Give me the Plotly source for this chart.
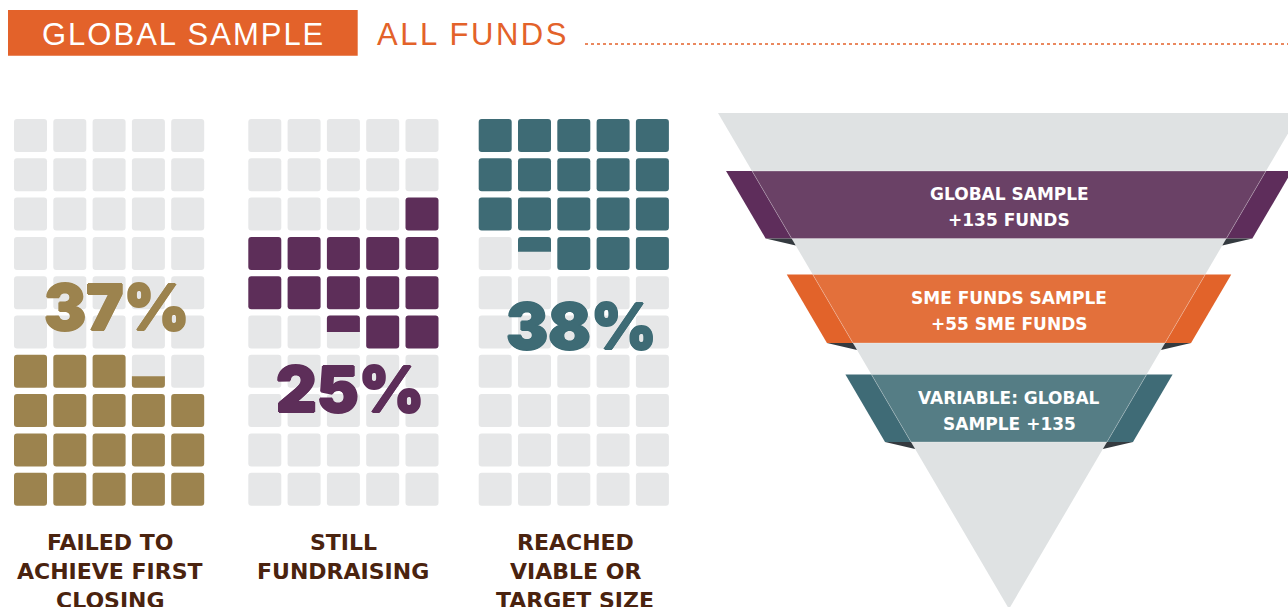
import plotly.graph_objects as go

# ---------------- data ----------------
header_box_text = "GLOBAL SAMPLE"
header_title = "ALL FUNDS"

categories = [
    ["FAILED TO", "ACHIEVE FIRST", "CLOSING"],
    ["STILL", "FUNDRAISING"],
    ["REACHED", "VIABLE OR", "TARGET SIZE"],
]
percents = [37, 25, 38]

# fill of each waffle cell (rows top -> bottom, 5 columns); fractions are partial cells
fill_failed = [
    [0, 0, 0, 0, 0], [0, 0, 0, 0, 0], [0, 0, 0, 0, 0], [0, 0, 0, 0, 0],
    [0, 0, 0, 0, 0], [0, 0, 0, 0, 0], [1, 1, 1, 0.35, 0],
    [1, 1, 1, 1, 1], [1, 1, 1, 1, 1], [1, 1, 1, 1, 1],
]
fill_still = [
    [0, 0, 0, 0, 0], [0, 0, 0, 0, 0], [0, 0, 0, 0, 1], [1, 1, 1, 1, 1],
    [1, 1, 1, 1, 1], [0, 0, 0.5, 1, 1], [0, 0, 0, 0, 0],
    [0, 0, 0, 0, 0], [0, 0, 0, 0, 0], [0, 0, 0, 0, 0],
]
fill_reached = [
    [1, 1, 1, 1, 1], [1, 1, 1, 1, 1], [1, 1, 1, 1, 1], [0, 0.45, 1, 1, 1],
    [0, 0, 0, 0, 0], [0, 0, 0, 0, 0], [0, 0, 0, 0, 0],
    [0, 0, 0, 0, 0], [0, 0, 0, 0, 0], [0, 0, 0, 0, 0],
]
fills = [fill_failed, fill_still, fill_reached]
partial_side = ["bottom", "top", "top"]

band_lines = [
    ["GLOBAL SAMPLE", "+135 FUNDS"],
    ["SME FUNDS SAMPLE", "+55 SME FUNDS"],
    ["VARIABLE: GLOBAL", "SAMPLE +135"],
]

# ---------------- styles / layout constants ----------------
W, H = 1288, 607
orange = "#e3622a"
waffle_colors = ["#9c834e", "#5d2e59", "#3e6b75"]
cell_bg = "#e6e7e8"
label_color = "#4a230f"
band_wing = ["#5e2d5b", "#e2632a", "#3f6b76"]
band_inner = ["#6a4166", "#e3703b", "#557d85"]
funnel_gray = "#dfe2e3"
shadow_col = "#343a3f"

grid_x0 = [14, 248.3, 478.7]
grid_y0 = 119
cell = 33
pitch = 39.3
pct_xy = [(116, 307), (350, 389), (581, 326)]
label_x = [110, 343, 575]
label_y0, label_dy = 542, 29

fun_cx, fun_top, fun_apex, fun_half_top = 1009, 113, 609, 291
wing = 26
band_y = [(171, 238.5), (274.5, 343), (374.5, 442)]
band_text_dy = 13
band_text_shift = 2.5

shapes = []
annotations = []


def rpath(x0, y0, x1, y1, r, round_top=True, round_bottom=True):
    rt = r if round_top else 0
    rb = r if round_bottom else 0
    p = f"M {x0 + rt},{y0} L {x1 - rt},{y0} "
    p += f"Q {x1},{y0} {x1},{y0 + rt} " if rt else ""
    p += f"L {x1},{y1 - rb} "
    p += f"Q {x1},{y1} {x1 - rb},{y1} " if rb else ""
    p += f"L {x0 + rb},{y1} "
    p += f"Q {x0},{y1} {x0},{y1 - rb} " if rb else ""
    p += f"L {x0},{y0 + rt} "
    p += f"Q {x0},{y0} {x0 + rt},{y0} " if rt else ""
    return p + "Z"


def add_path(path, color, line_color=None, lw=0):
    shapes.append(dict(type="path", path=path, xref="x", yref="y",
                       fillcolor=color, line=dict(width=lw, color=line_color or color),
                       layer="below"))


def poly(pts):
    return "M " + " L ".join(f"{x},{y}" for x, y in pts) + " Z"


def spaced(text, px):
    return f'<span style="letter-spacing:{px}px">{text}</span>'


def heavy(col, d=0.9):
    return ", ".join(f"{dx}px {dy}px 0 {col}" for dx, dy in
                     [(d, 0), (-d, 0), (0, d), (0, -d)])


# ---------------- header ----------------
shapes.append(dict(type="rect", xref="x", yref="y", x0=8, x1=357.7, y0=10, y1=55.7,
                   fillcolor=orange, line=dict(width=0), layer="below"))
annotations.append(dict(x=183, y=34.5, xref="x", yref="y", text=spaced(header_box_text, 2),
                        showarrow=False, xanchor="center", yanchor="middle",
                        font=dict(family="Liberation Sans, Arial", size=31, color="white")))
annotations.append(dict(x=375, y=34.5, xref="x", yref="y", text=spaced(header_title, 2.5),
                        showarrow=False, xanchor="left", yanchor="middle",
                        font=dict(family="Liberation Sans, Arial", size=31, color=orange)))
shapes.append(dict(type="line", xref="x", yref="y", x0=585, x1=W, y0=44, y1=44,
                   line=dict(color=orange, width=1.6, dash="dot")))

# ---------------- waffles ----------------
for g, grid in enumerate(fills):
    col = waffle_colors[g]
    for r, row in enumerate(grid):
        for c, v in enumerate(row):
            x0 = grid_x0[g] + c * pitch
            y0 = grid_y0 + r * pitch
            x1, y1 = x0 + cell, y0 + cell
            if v >= 1:
                add_path(rpath(x0, y0, x1, y1, 3), col)
            else:
                add_path(rpath(x0, y0, x1, y1, 3), cell_bg)
                if v > 0:
                    if partial_side[g] == "bottom":
                        add_path(rpath(x0, y1 - v * cell, x1, y1, 3, False, True), col)
                    else:
                        add_path(rpath(x0, y0, x1, y0 + v * cell, 3, True, False), col)
    annotations.append(dict(x=pct_xy[g][0], y=pct_xy[g][1], xref="x", yref="y",
                            text=f"{percents[g]}%", showarrow=False,
                            xanchor="center", yanchor="middle",
                            font=dict(family="Inter", size=63, color=col, weight=900,
                                      shadow=heavy(col))))
    for i, line in enumerate(categories[g]):
        annotations.append(dict(x=label_x[g], y=label_y0 + i * label_dy, xref="x", yref="y",
                                text=line, showarrow=False, xanchor="center", yanchor="middle",
                                font=dict(family="DejaVu Sans", size=22, color=label_color,
                                          weight="bold")))

# ---------------- funnel ----------------
def half(y):
    return fun_half_top * (fun_apex - y) / (fun_apex - fun_top)


add_path(poly([(fun_cx - fun_half_top, fun_top), (fun_cx + fun_half_top, fun_top),
               (fun_cx, fun_apex)]), funnel_gray)

for b, (yt, yb) in enumerate(band_y):
    ht, hb = half(yt), half(yb)
    add_path(poly([(fun_cx - ht - wing, yt), (fun_cx - ht, yt), (fun_cx - hb, yb),
                   (fun_cx - hb - wing, yb)]), band_wing[b])
    add_path(poly([(fun_cx + ht, yt), (fun_cx + ht + wing, yt), (fun_cx + hb + wing, yb),
                   (fun_cx + hb, yb)]), band_wing[b])
    hs = half(yb + 7)
    add_path(poly([(fun_cx - hb - wing, yb), (fun_cx - hb, yb), (fun_cx - hs, yb + 7)]), shadow_col)
    add_path(poly([(fun_cx + hb + wing, yb), (fun_cx + hb, yb), (fun_cx + hs, yb + 7)]), shadow_col)
    add_path(poly([(fun_cx - ht, yt), (fun_cx + ht, yt), (fun_cx + hb, yb),
                   (fun_cx - hb, yb)]), band_inner[b], "rgba(255,255,255,0.35)", 0.8)
    yc = (yt + yb) / 2 + band_text_shift
    for i, line in enumerate(band_lines[b]):
        annotations.append(dict(x=fun_cx, y=yc + (i - 0.5) * 2 * band_text_dy, xref="x", yref="y",
                                text=line, showarrow=False, xanchor="center", yanchor="middle",
                                font=dict(family="DejaVu Sans", size=17, color="white",
                                          weight="bold")))

fig = go.Figure()
fig.add_trace(go.Scatter(x=[0, W], y=[0, H], mode="markers", marker=dict(opacity=0),
                         hoverinfo="skip", showlegend=False))
fig.update_layout(
    width=W, height=H, margin=dict(l=0, r=0, t=0, b=0),
    paper_bgcolor="white", plot_bgcolor="white",
    xaxis=dict(range=[0, W], visible=False, fixedrange=True),
    yaxis=dict(range=[H, 0], visible=False, fixedrange=True),
    shapes=shapes, annotations=annotations, showlegend=False,
)
fig.write_html("out.html", config={"displayModeBar": False},
               post_script="document.body.style.margin='0';document.body.style.overflow='hidden';")
